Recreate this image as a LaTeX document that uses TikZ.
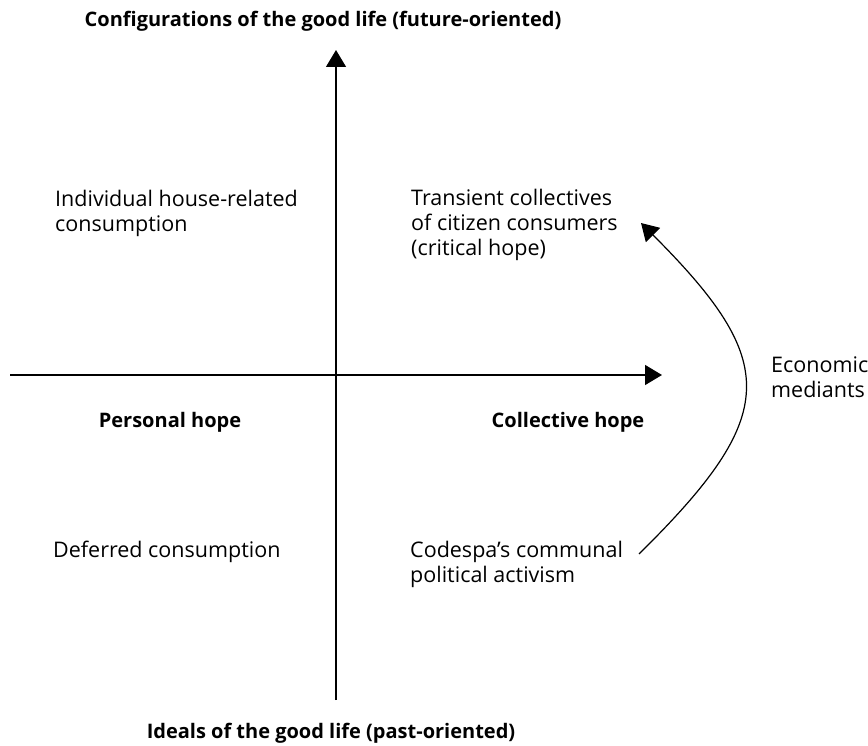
\documentclass[tikz,border=0pt]{standalone}
\usepackage{fontspec}
\setmainfont{Open Sans}
\usetikzlibrary{positioning, arrows.meta}

\begin{document}
\begin{tikzpicture}[x=1pt, y=-1pt,
    every quadrant/.style={align=left, anchor=base west, inner sep=0pt, font=\fontsize{21.5}{25}\selectfont},
    every heading/.style={anchor=base, inner sep=0pt, font=\fontsize{20}{25}\selectfont\bfseries},
    axis line/.style={line width=1.2pt, -{Triangle[length=17pt, width=20pt]}}]

    \useasboundingbox (0,0) rectangle (868,746);

    % Axis end points
    \coordinate (V-bottom) at (336,700);
    \coordinate (V-top) at (336,50);
    \coordinate (H-left) at (10,375);
    \coordinate (H-right) at (662,375);

    % Vertical axis
    \draw[axis line] (V-bottom) -- (V-top);

    % Horizontal axis
    \draw[axis line] (H-left) -- (H-right);

    % Axis headings
    \node[every heading] (future) at (323,27) {Configurations of the good life (future-oriented)};
    \node[every heading] (past) at (331,738) {Ideals of the good life (past-oriented)};
    \node[every heading] (personal) at (170,427) {Personal hope};
    \node[every heading] (collective) at (568,427) {Collective hope};

    % Quadrant labels (anchored at the last line)
    \node[every quadrant] (house) at (55,232) {Individual house-related\\consumption};
    \node[every quadrant] (transient) at (411,256) {Transient collectives\\of citizen consumers\\(critical hope)};
    \node[every quadrant] (deferred) at (53,557) {Deferred consumption};
    \node[every quadrant] (codespa) at (410,582) {Codespa’s communal\\political activism};

    % Curved arrow between the right quadrants
    \coordinate (curve-start) at (639,554);
    \coordinate (curve-end) at (641,223);
    \draw[axis line] (curve-start) .. controls (780,415) and (780,362) .. (curve-end);
    \node[every quadrant] (mediants) at (771,397) {Economic\\mediants};

\end{tikzpicture}
\end{document}
